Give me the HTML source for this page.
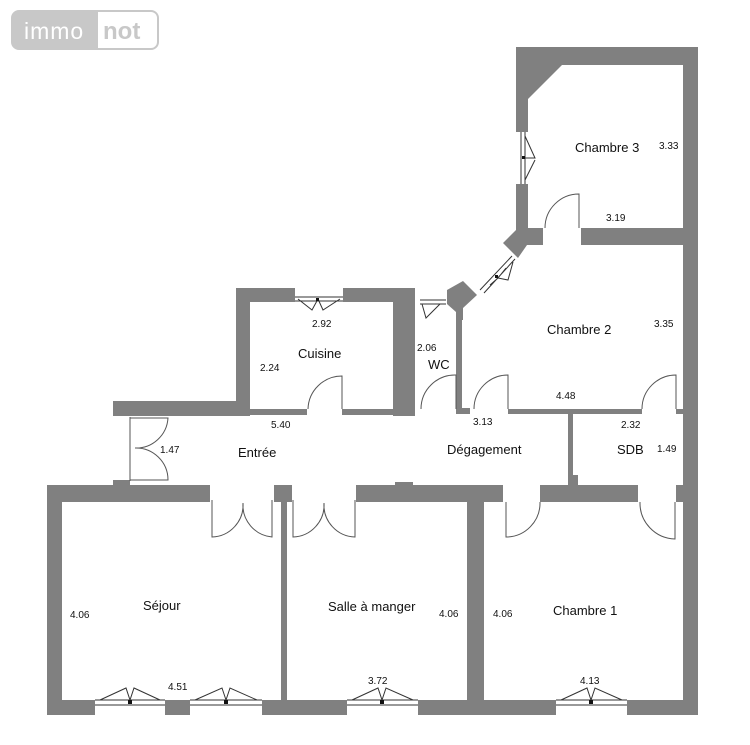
<!DOCTYPE html>
<html><head><meta charset="utf-8"><style>
html,body{margin:0;padding:0;background:#fff;}
svg{display:block;}
text{font-family:"Liberation Sans",sans-serif;fill:#111;}
.r{font-size:13px;}
.d{font-size:10px;}
</style></head><body>
<svg width="750" height="745" viewBox="0 0 750 745" xmlns="http://www.w3.org/2000/svg">
<rect x="12" y="11" width="146" height="38" rx="7" fill="#fff" stroke="#c8c8c8" stroke-width="2"/>
<path d="M19,11 H98 V49 H19 A7,7 0 0 1 12,42 V18 A7,7 0 0 1 19,11 Z" fill="#c8c8c8"/>
<text x="24" y="39" style="font-size:23px;fill:#fff;letter-spacing:1px">immo</text>
<text x="103" y="39" style="font-size:24px;font-weight:bold;fill:#c8c8c8">not</text>

<g fill="#808080">
<rect x="516" y="47" width="182" height="18"/>
<rect x="683" y="47" width="15" height="668"/>
<polygon points="516,60 562,60 562,65 528,99 528,132 516,132"/>
<rect x="516" y="184" width="12" height="46"/>
<rect x="581" y="228" width="102" height="17"/>
<polygon points="516,200 528,200 528,228 543,228 543,245 527,245 518,258 503,243 516,230"/>
<polygon points="447,290 463,281 477,295 463,308 463,320 456,320 456,312 447,304"/>
<rect x="236" y="288" width="59" height="14"/>
<rect x="343" y="288" width="72" height="14"/>
<rect x="236" y="288" width="14" height="128"/>
<rect x="393" y="288" width="22" height="128"/>
<rect x="456" y="300" width="6" height="114"/>
<rect x="113" y="401" width="137" height="15"/>
<rect x="250" y="409" width="57" height="6"/>
<rect x="342" y="409" width="51" height="6"/>
<rect x="456" y="408" width="14" height="6"/>
<rect x="508" y="409" width="134" height="5"/>
<rect x="676" y="409" width="7" height="5"/>
<rect x="568" y="414" width="5" height="68"/>
<rect x="568" y="475" width="10" height="10"/>
<rect x="113" y="480" width="17" height="8"/>
<rect x="47" y="485" width="163" height="17"/>
<rect x="274" y="485" width="18" height="17"/>
<rect x="356" y="485" width="147" height="17"/>
<rect x="395" y="482" width="18" height="5"/>
<rect x="540" y="485" width="98" height="17"/>
<rect x="676" y="485" width="7" height="17"/>
<rect x="47" y="485" width="15" height="230"/>
<rect x="281" y="502" width="6" height="198"/>
<rect x="467" y="502" width="17" height="198"/>
<rect x="47" y="700" width="48" height="15"/>
<rect x="165" y="700" width="25" height="15"/>
<rect x="262" y="700" width="85" height="15"/>
<rect x="418" y="700" width="138" height="15"/>
<rect x="627" y="700" width="71" height="15"/>
</g>

<g fill="none" stroke="#555" stroke-width="1">
<path d="M579,228 V194 A34,34 0 0 0 545,228"/>
<path d="M342,409 V376 A34,34 0 0 0 308,409"/>
<path d="M456,409 V375 A34,34 0 0 0 421,409"/>
<path d="M508,409 V375 A34,34 0 0 0 474,409"/>
<path d="M676,409 V375 A34,34 0 0 0 642,409"/>
<path d="M130,417 V481 M130,418 H168 A32,32 0 0 1 135,448 M130,480 H168 A32,32 0 0 0 135,448"/>
<path d="M212,500 V537 A32,32 0 0 0 243,503 M272,500 V537 A32,32 0 0 1 243,503"/>
<path d="M293,500 V537 A32,32 0 0 0 324,503 M355,500 V537 A32,32 0 0 1 324,503"/>
<path d="M506,502 V537 A34,34 0 0 0 540,502"/>
<path d="M640,502 A36,36 0 0 0 675,539 V502"/>
<g stroke="#333">
<path d="M95,700 H165 M95,705 H165 M100,700 L126,688 L130,700 M160,700 L134,688 L130,700"/>
<path d="M190,700 H262 M190,705 H262 M195,700 L222,688 L226,700 M257,700 L230,688 L226,700"/>
<path d="M347,700 H418 M347,705 H418 M352,700 L378,688 L382,700 M413,700 L386,688 L382,700"/>
<path d="M556,700 H627 M556,705 H627 M561,700 L587,688 L591,700 M622,700 L595,688 L591,700"/>
<path d="M295,301 H343 M295,297 H343 M298,299 L312,310 L318,299 M340,299 L323,310 L318,299"/>
<path d="M420,304 H446 M420,300 H446 M422,304 L426,318 L440,304"/>
<path d="M521,132 V184 M525,132 V184 M525,136 L535,158 L525,158 M525,180 L535,160"/>
<path d="M480,290 L512,256 M484,293 L515,259 M490,285 L498,278 L506,268 M498,278 L508,280 L513,262"/>
</g>
</g>
<g fill="#111">
<rect x="128" y="700" width="4" height="4"/><rect x="224" y="700" width="4" height="4"/>
<rect x="380" y="700" width="4" height="4"/><rect x="589" y="700" width="4" height="4"/>
<rect x="316" y="298" width="3" height="3"/><rect x="522" y="156" width="3" height="3"/>
<rect x="495" y="275" width="3" height="3"/>
</g>

<text class="r" x="575" y="152">Chambre 3</text>
<text class="d" x="659" y="149">3.33</text>
<text class="d" x="606" y="221">3.19</text>
<text class="r" x="547" y="334">Chambre 2</text>
<text class="d" x="654" y="327">3.35</text>
<text class="d" x="312" y="327">2.92</text>
<text class="r" x="298" y="358">Cuisine</text>
<text class="d" x="260" y="371">2.24</text>
<text class="d" x="417" y="351">2.06</text>
<text class="r" x="428" y="369">WC</text>
<text class="d" x="556" y="399">4.48</text>
<text class="d" x="621" y="428">2.32</text>
<text class="d" x="473" y="425">3.13</text>
<text class="d" x="271" y="428">5.40</text>
<text class="d" x="160" y="453">1.47</text>
<text class="r" x="238" y="457">Entrée</text>
<text class="r" x="447" y="454">Dégagement</text>
<text class="r" x="617" y="454">SDB</text>
<text class="d" x="657" y="452">1.49</text>
<text class="r" x="143" y="610">Séjour</text>
<text class="d" x="70" y="618">4.06</text>
<text class="r" x="328" y="611">Salle à manger</text>
<text class="d" x="439" y="617">4.06</text>
<text class="d" x="493" y="617">4.06</text>
<text class="r" x="553" y="615">Chambre 1</text>
<text class="d" x="168" y="690">4.51</text>
<text class="d" x="368" y="684">3.72</text>
<text class="d" x="580" y="684">4.13</text>
</svg>
</body></html>
